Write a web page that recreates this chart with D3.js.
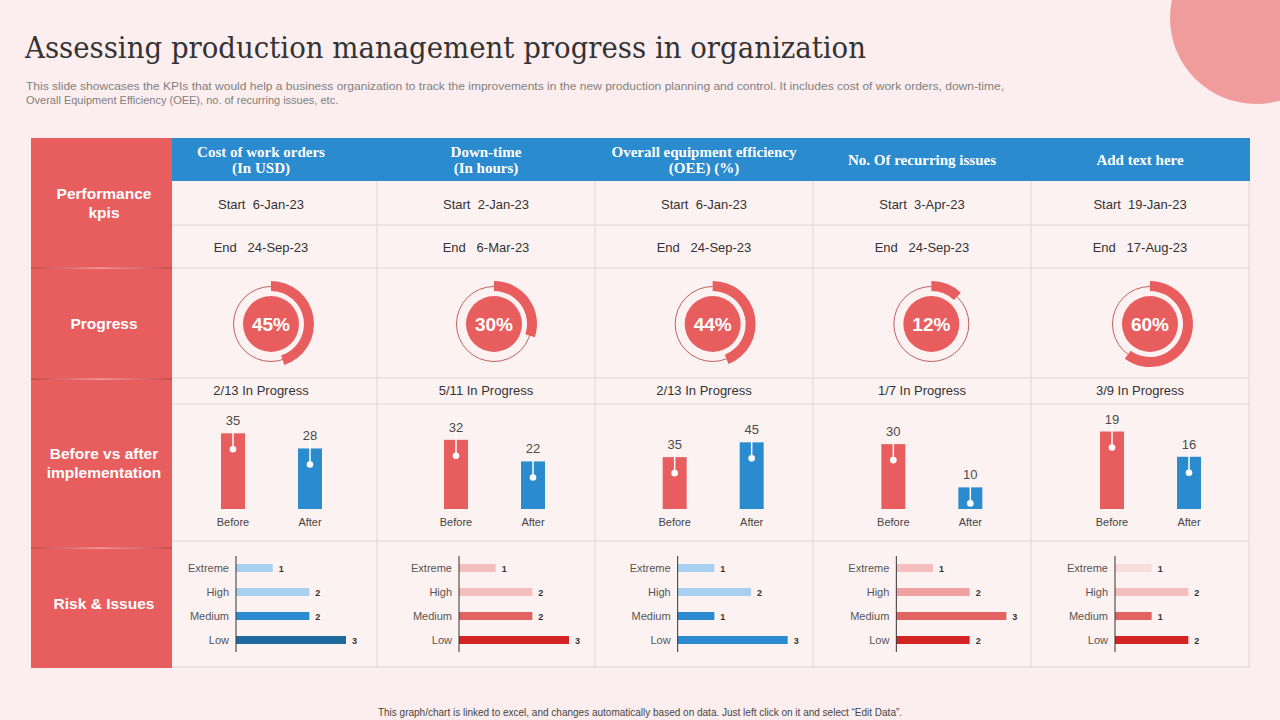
<!DOCTYPE html>
<html>
<head>
<meta charset="utf-8">
<script src="https://cdn.jsdelivr.net/npm/d3@7"></script>
<style>
html,body{margin:0;padding:0;background:#FCEEEE;}
svg{display:block;font-family:"Liberation Sans",Arial,sans-serif;}
</style>
</head>
<body>
<svg id="chart" width="1280" height="720"></svg>
<script>
// ---------- DATA ----------
const title = "Assessing production management progress in organization";
const subtitleLines = [
  "This slide showcases the KPIs that would help a business organization to track the improvements in the new production planning and control. It includes cost of work orders, down-time,",
  "Overall Equipment Efficiency (OEE),  no. of recurring issues, etc."
];
const footer = "This graph/chart is linked to excel, and changes automatically based on data. Just left click on it and select \u201CEdit Data\u201D.";
const rowLabels = [["Performance","kpis"],["Progress"],["Before vs after","implementation"],["Risk & Issues"]];
const headers = [["Cost of work orders","(In USD)"],["Down-time","(In hours)"],["Overall equipment efficiency","(OEE) (%)"],["No. Of recurring issues"],["Add text here"]];
const startDates = ["6-Jan-23","2-Jan-23","6-Jan-23","3-Apr-23","19-Jan-23"];
const endDates = ["24-Sep-23","6-Mar-23","24-Sep-23","24-Sep-23","17-Aug-23"];
const progress = [45,30,44,12,60];
const progressLabels = ["2/13 In Progress","5/11 In Progress","2/13 In Progress","1/7 In Progress","3/9 In Progress"];
const phaseLabels = ["Before","After"];
const beforeValues = [35,32,35,30,19];
const afterValues = [28,22,45,10,16];
const barDomains = [[0,37],[0,37],[0,54],[0,37],[9.8,19.3]];
const riskCategories = ["Extreme","High","Medium","Low"];
const riskValues = [[1,2,2,3],[1,2,2,3],[1,2,1,3],[1,2,3,2],[1,2,1,2]];
const riskColors = [
  ["#A8D0EE","#A8D0EE","#2B8BCF","#1E6A9E"],
  ["#F4BEBE","#F4BEBE","#E36262","#D42323"],
  ["#A8D0EE","#A8D0EE","#2B8BCF","#2B8BCF"],
  ["#F4BEBE","#F0A2A2","#E36262","#D42323"],
  ["#F8DDDD","#F4BEBE","#E36262","#D42323"]
];

// ---------- STYLE / LAYOUT ----------
const RED = "#E85E5E", BLUE = "#2A8BCF", GRID = "#E3D4D4", TXT = "#333";
const svg = d3.select("#chart");

// decorative circle
svg.append("circle").attr("cx",1256).attr("cy",18).attr("r",86).attr("fill","#F19C9C");

// title
svg.append("text").attr("x",25).attr("y",58).attr("font-family","'DejaVu Serif',serif")
  .attr("font-size",29).attr("fill","#333").attr("textLength",841).attr("lengthAdjust","spacingAndGlyphs").text(title);
svg.selectAll("text.sub").data(subtitleLines).join("text").attr("class","sub")
  .attr("x",26).attr("y",(d,i)=>90+i*14).attr("font-size",11).attr("fill","#808080")
  .attr("textLength",(d,i)=>i===0?978:null).attr("lengthAdjust","spacingAndGlyphs").text(d=>d);

// table geometry
const tableLeft = 172, tableRight = 1249, tableTop = 138, tableBottom = 667;
const colX = d3.scaleLinear().domain([0,5]).range([159,1249]); // column grid
const colCenter = i => (colX(i)+colX(i+1))/2;
const content = d3.scaleLinear().domain([0,1,4]).range([263,486,1142]);
const rowsY = [181,225,268,378,404,541,667];

// table background
svg.append("rect").attr("x",tableLeft).attr("y",tableTop).attr("width",tableRight-tableLeft).attr("height",tableBottom-tableTop).attr("fill","#FDF2F2");
// header
svg.append("rect").attr("x",tableLeft).attr("y",tableTop).attr("width",tableRight-tableLeft+1).attr("height",43).attr("fill",BLUE);
// grid
svg.selectAll("line.h").data(rowsY.slice(1)).join("line").attr("class","h")
  .attr("x1",tableLeft).attr("x2",tableRight).attr("y1",d=>d).attr("y2",d=>d).attr("stroke",GRID);
svg.selectAll("line.v").data([1,2,3,4,5]).join("line").attr("class","v")
  .attr("x1",d=>colX(d)).attr("x2",d=>colX(d)).attr("y1",181).attr("y2",tableBottom).attr("stroke",GRID);

// left red column
svg.append("rect").attr("x",31).attr("y",138).attr("width",141).attr("height",530).attr("fill",RED);
const grad = svg.append("defs").append("linearGradient").attr("id","sep").attr("x1","0%").attr("x2","100%");
grad.append("stop").attr("offset","0%").attr("stop-color","#B84444");
grad.append("stop").attr("offset","50%").attr("stop-color","#F3B0B0");
grad.append("stop").attr("offset","100%").attr("stop-color","#B84444");
svg.selectAll("rect.sep").data([268,379,548]).join("rect").attr("class","sep")
  .attr("x",31).attr("y",d=>d-0.5).attr("width",141).attr("height",1.2).attr("fill","url(#sep)");
const rowLabelY = [[199,218],[329],[459,478],[609]];
rowLabels.forEach((lines,r)=>{
  lines.forEach((l,k)=>{
    svg.append("text").attr("x",104).attr("y",rowLabelY[r][k]).attr("text-anchor","middle")
      .attr("font-size",15.5).attr("font-weight","bold").attr("fill","#fff").text(l);
  });
});

// headers
headers.forEach((lines,i)=>{
  const cx = colCenter(i) - (i===0?7:0);
  const ys = lines.length===2 ? [157,173] : [165];
  lines.forEach((l,k)=>{
    svg.append("text").attr("x",cx).attr("y",ys[k]).attr("text-anchor","middle")
      .attr("font-family","'Liberation Serif',serif").attr("font-weight","bold").attr("font-size",15)
      .attr("fill","#fff").text(l);
  });
});

// start / end rows
const cellText = (i)=> colCenter(i) - (i===0?7:0);
startDates.forEach((d,i)=>{
  svg.append("text").attr("x",cellText(i)).attr("y",208.5).attr("text-anchor","middle").attr("font-size",13).attr("fill",TXT)
    .attr("xml:space","preserve").text("Start  "+d);
  svg.append("text").attr("x",cellText(i)).attr("y",251.5).attr("text-anchor","middle").attr("font-size",13).attr("fill",TXT)
    .attr("xml:space","preserve").text("End   "+endDates[i]);
});

// progress donuts
const pctScale = d3.scaleLinear().domain([0,100]).range([0,2*Math.PI]);
const arc = d3.arc().innerRadius(33).outerRadius(43).startAngle(0);
progress.forEach((p,i)=>{
  const g = svg.append("g").attr("transform",`translate(${content(i)+8},324)`);
  g.append("circle").attr("r",37.5).attr("fill","none").attr("stroke","#C0605F").attr("stroke-width",1);
  g.append("path").attr("d",arc({endAngle:pctScale(p)})).attr("fill",RED);
  g.append("circle").attr("r",28).attr("fill",RED);
  g.append("text").attr("y",7).attr("text-anchor","middle").attr("font-size",19).attr("font-weight","bold").attr("fill","#fff").text(p+"%");
  svg.append("text").attr("x",cellText(i)).attr("y",394.5).attr("text-anchor","middle").attr("font-size",13).attr("fill",TXT).text(progressLabels[i]);
});

// before vs after bars
beforeValues.forEach((b,i)=>{
  const vals = [b, afterValues[i]];
  const x = d3.scalePoint().domain(phaseLabels).range([content(i)-30, content(i)+47]);
  const y = d3.scaleLinear().domain(barDomains[i]).range([509,429]);
  const g = svg.append("g");
  phaseLabels.forEach((ph,k)=>{
    const v = vals[k], top = y(v), cx = x(ph);
    g.append("rect").attr("x",cx-12).attr("y",top).attr("width",24).attr("height",509-top).attr("fill",k===0?RED:BLUE);
    g.append("line").attr("x1",cx).attr("x2",cx).attr("y1",top-9).attr("y2",top+16).attr("stroke","#fff").attr("stroke-width",1.5);
    g.append("circle").attr("cx",cx).attr("cy",top+16).attr("r",3.3).attr("fill","#fff");
    g.append("text").attr("x",cx).attr("y",top-8).attr("text-anchor","middle").attr("font-size",13).attr("fill","#4a4a4a").text(v);
    g.append("text").attr("x",cx).attr("y",526).attr("text-anchor","middle").attr("font-size",11).attr("fill","#444").text(ph);
  });
});

// risk & issues bars
riskValues.forEach((vals,i)=>{
  const ax = content(i) - 27;
  const y = d3.scaleBand().domain(riskCategories).range([556,652]);
  const x = d3.scaleLinear().domain([0,3]).range([0,110]);
  const g = svg.append("g");
  riskCategories.forEach((c,k)=>{
    const cy = y(c) + y.bandwidth()/2;
    g.append("rect").attr("x",ax).attr("y",cy-4).attr("width",x(vals[k])).attr("height",8).attr("fill",riskColors[i][k]);
    g.append("text").attr("x",ax-7).attr("y",cy+4).attr("text-anchor","end").attr("font-size",11).attr("fill","#555").text(c);
    g.append("text").attr("x",ax+x(vals[k])+6).attr("y",cy+3.5).attr("font-size",9).attr("font-weight","bold").attr("fill","#333").text(vals[k]);
  });
  g.append("line").attr("x1",ax).attr("x2",ax).attr("y1",556).attr("y2",652).attr("stroke","#333").attr("stroke-width",1);
});

// footer
svg.append("text").attr("x",640).attr("y",716).attr("text-anchor","middle").attr("font-size",10).attr("fill","#444").text(footer);
</script>
</body>
</html>
